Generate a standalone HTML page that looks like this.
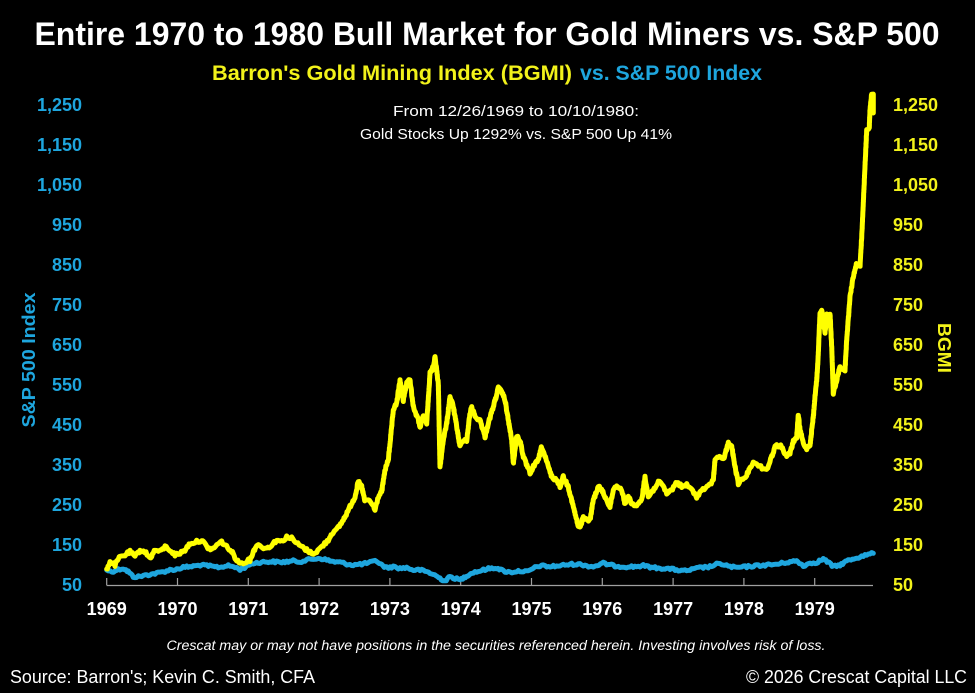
<!DOCTYPE html>
<html>
<head>
<meta charset="utf-8">
<style>
  html, body { margin:0; padding:0; background:#000; }
  body { width:975px; height:693px; overflow:hidden; }
  svg { display:block; }
  text { font-family: "Liberation Sans", "DejaVu Sans", sans-serif; }
</style>
</head>
<body>
<svg width="975" height="693" viewBox="0 0 975 693" xmlns="http://www.w3.org/2000/svg">
  <rect x="0" y="0" width="975" height="693" fill="#000"/>

  <!-- Title -->
  <text x="487" y="45" text-anchor="middle" font-size="32" font-weight="bold" fill="#ffffff" textLength="905" lengthAdjust="spacingAndGlyphs">Entire 1970 to 1980 Bull Market for Gold Miners vs. S&amp;P 500</text>

  <!-- Subtitle -->
  <text x="212" y="80" font-size="21" font-weight="bold" fill="#f2f21a" textLength="360" lengthAdjust="spacingAndGlyphs">Barron's Gold Mining Index (BGMI)</text>
  <text x="580" y="80" font-size="21" font-weight="bold" fill="#1ea6de" textLength="182" lengthAdjust="spacingAndGlyphs">vs. S&amp;P 500 Index</text>

  <!-- Annotation -->
  <text x="516" y="116" text-anchor="middle" font-size="15" fill="#ffffff" textLength="246" lengthAdjust="spacingAndGlyphs">From 12/26/1969 to 10/10/1980:</text>
  <text x="516" y="139" text-anchor="middle" font-size="15" fill="#ffffff" textLength="312" lengthAdjust="spacingAndGlyphs">Gold Stocks Up 1292% vs. S&amp;P 500 Up 41%</text>

  <!-- Left axis labels -->
  <g font-size="18" font-weight="bold" fill="#1ea6de" text-anchor="end">
    <text x="82" y="111">1,250</text>
    <text x="82" y="151">1,150</text>
    <text x="82" y="191">1,050</text>
    <text x="82" y="231">950</text>
    <text x="82" y="271">850</text>
    <text x="82" y="311">750</text>
    <text x="82" y="351">650</text>
    <text x="82" y="391">550</text>
    <text x="82" y="431">450</text>
    <text x="82" y="471">350</text>
    <text x="82" y="511">250</text>
    <text x="82" y="551">150</text>
    <text x="82" y="591">50</text>
  </g>

  <!-- Right axis labels -->
  <g font-size="18" font-weight="bold" fill="#f2f21a" text-anchor="start">
    <text x="893" y="111">1,250</text>
    <text x="893" y="151">1,150</text>
    <text x="893" y="191">1,050</text>
    <text x="893" y="231">950</text>
    <text x="893" y="271">850</text>
    <text x="893" y="311">750</text>
    <text x="893" y="351">650</text>
    <text x="893" y="391">550</text>
    <text x="893" y="431">450</text>
    <text x="893" y="471">350</text>
    <text x="893" y="511">250</text>
    <text x="893" y="551">150</text>
    <text x="893" y="591">50</text>
  </g>

  <!-- Axis titles -->
  <text transform="translate(35,360) rotate(-90)" text-anchor="middle" font-size="18" font-weight="bold" fill="#1ea6de" textLength="135" lengthAdjust="spacingAndGlyphs">S&amp;P 500 Index</text>
  <text transform="translate(938,348) rotate(90)" text-anchor="middle" font-size="18" font-weight="bold" fill="#f2f21a" textLength="50" lengthAdjust="spacingAndGlyphs">BGMI</text>

  <!-- X axis -->
  <line x1="106.5" y1="585.5" x2="873" y2="585.5" stroke="#a0a0a0" stroke-width="1.2"/>
  <g stroke="#a0a0a0" stroke-width="1.2">
    <line x1="106.7" y1="585" x2="106.7" y2="578"/>
    <line x1="177.5" y1="585" x2="177.5" y2="578"/>
    <line x1="248.3" y1="585" x2="248.3" y2="578"/>
    <line x1="319.1" y1="585" x2="319.1" y2="578"/>
    <line x1="389.9" y1="585" x2="389.9" y2="578"/>
    <line x1="460.7" y1="585" x2="460.7" y2="578"/>
    <line x1="531.5" y1="585" x2="531.5" y2="578"/>
    <line x1="602.3" y1="585" x2="602.3" y2="578"/>
    <line x1="673.1" y1="585" x2="673.1" y2="578"/>
    <line x1="743.9" y1="585" x2="743.9" y2="578"/>
    <line x1="814.7" y1="585" x2="814.7" y2="578"/>
  </g>
  <g font-size="18" font-weight="bold" fill="#ffffff" text-anchor="middle">
    <text x="106.7" y="615">1969</text>
    <text x="177.5" y="615">1970</text>
    <text x="248.3" y="615">1971</text>
    <text x="319.1" y="615">1972</text>
    <text x="389.9" y="615">1973</text>
    <text x="460.7" y="615">1974</text>
    <text x="531.5" y="615">1975</text>
    <text x="602.3" y="615">1976</text>
    <text x="673.1" y="615">1977</text>
    <text x="743.9" y="615">1978</text>
    <text x="814.7" y="615">1979</text>
  </g>

  <!-- S&P 500 line (blue) -->
  <polyline id="blue" fill="none" stroke="#1ea6de" stroke-width="5" stroke-linejoin="round" stroke-linecap="round"
    points="106.7,570 111.7,571.7 116.7,570 123.3,568.3 128.3,571.7 133.3,576.7 138.3,576.7 143.3,575.7 150,574.3 156.7,573.3 163.3,571.7 170,570 176.7,569.3 183.3,567.3 190,566.7 196.7,565.7 200,565 206.7,565.7 213.3,566.7 220,567.3 226.7,565.7 233.3,566.7 240,569.3 243.3,568.3 248.3,565 253.3,563.3 260,562.3 266.7,561.7 273.3,561.7 280,562.3 286.7,561.7 293.3,561 300,561.7 306.7,560 313.3,559 320,558.3 326.7,560 333.3,561.7 340,562.3 346.7,564 353.3,565 360,564.3 366.7,563.3 373.3,561.7 376.7,561 381.7,565 386.7,567.7 393.3,566.7 400,568.3 406.7,567.7 413.3,570 420,570 426.7,571.7 433.3,574.3 440,578.3 445,581 450,576.7 455,578.3 460,580 466.7,575.7 473.3,572.3 480,571 486.7,569 496.7,567.7 503.3,571 510,572.3 520,571 528.3,571.7 533.3,568.3 540,565.7 550,566.7 560,565.7 570,564.3 580,564.3 586.7,565.7 593.3,566.7 603.3,563.3 613.3,565.7 623.3,566.7 633.3,566.7 643.3,565.7 653.3,567.7 663.3,568.3 673.3,569.3 683.3,571 690,570 700,567.7 710,566.7 716.7,564.3 723.3,564.3 730,566.7 736.7,567.7 746.7,566.7 756.7,565.7 766.7,565 776.7,564.3 786.7,562.3 796.7,561 803.3,565.7 810,563.3 816.7,562.3 823.3,559 828.3,562.3 833.3,566.7 840,565 846.7,561 856.7,557.7 866.7,555 873.3,553.3"/>

  <!-- BGMI line (yellow) -->
  <polyline id="yellow" fill="none" stroke="#ffff00" stroke-width="5" stroke-linejoin="round" stroke-linecap="round"
    points="106.7,569 110,561.7 115,565 120,556.7 125,555 130,551.7 135,556.7 140,550 145,551.7 150,558.3 155,550 160,551.7 165,546.7 170,550 175,555 180,553.3 185,550 190,543.3 196.7,541.7 201.7,540 206.7,546.7 211.7,550 216.7,545 221.7,541.7 226.7,546.7 231.7,551.7 236.7,560 240,563.3 245,561.7 250,560 253.3,551.7 256.7,545 261.7,546.7 266.7,548.3 271.7,545 276.7,540 281.7,541.7 286.7,536.7 291.7,538.3 296.7,543.3 301.7,546.7 306.7,550 311.7,553.3 316.7,551.7 323.3,545 328.3,540 331.7,533.3 336.7,530 343.3,520 350,506.7 355,496.7 358.3,481.7 361.7,486.7 365,501.7 368.3,500 371.7,503.3 375,510 378.3,496.7 381.7,491.7 385,470 388.3,460 391.7,426.7 393.3,410 396.7,403.3 400,380 403.3,400 406.7,383.3 410,380 413.3,406.7 418.3,420 420,426.7 423.3,416.7 426.7,423.3 430,373.3 433.3,366.7 435,356.7 438.3,383.3 440,466.7 443.3,440 446.7,423.3 450,396.7 453.3,406.7 456.7,426.7 460,446.7 463.3,440 466.7,440 470,413.3 471.7,406.7 475,416.7 480,420 485,436.7 488.3,423.3 493.3,406.7 498.3,388.3 501.7,391.7 505,400 508.3,420 511.7,440 513.3,463.3 516.7,436.7 520,440 523.3,456.7 530,473.3 533.3,466.7 538.3,460 541.7,446.7 545,456.7 548.3,466.7 551.7,476.7 556.7,480 560,486.7 563.3,476.7 568.3,486.7 573.3,506.7 578.3,526.7 580,528.3 583.3,516.7 586.7,520 590,520 593.3,500 598.3,486.7 601.7,490 605,496.7 610,506.7 613.3,490 616.7,485 621.7,490 625,503.3 628.3,496.7 631.7,503.3 636.7,506.7 641.7,500 645,476.7 648.3,496.7 653.3,490 658.3,481.7 663.3,486.7 666.7,493.3 671.7,490 676.7,481.7 681.7,486.7 686.7,485 691.7,490 696.7,496.7 701.7,490 708.3,486.7 713.3,480 715,460 718.3,456.7 723.3,460 728.3,443.3 731.7,446.7 735,466.7 738.3,483.3 741.7,480 746.7,475 750,466.7 753.3,463.3 758.3,465 763.3,468.3 766.7,470 771.7,456.7 775,446.7 780,445 783.3,450 786.7,456.7 790,453.3 793.3,441.7 796.7,436.7 798.3,415 800,430 803.3,443.3 806.7,448.3 810,445 813.3,416.7 815,396.7 816.7,380 818,360 820,313.3 821.7,310 825,333.3 826.7,313.3 830,313.3 831.7,346.7 833.3,393.3 836.7,380 840,366.7 845,370 846.7,340 850,296.7 853.3,276.7 856.7,263.3 860,266.7 861.7,236.7 865,166.7 866.7,130 869.3,126.7 870,110 871.7,93.3 873.3,93.3 873.3,113"/>

  <!-- Disclaimer -->
  <text x="496" y="650" text-anchor="middle" font-size="13.5" font-style="italic" fill="#ffffff" textLength="659" lengthAdjust="spacingAndGlyphs">Crescat may or may not have positions in the securities referenced herein. Investing involves risk of loss.</text>

  <!-- Footer -->
  <text x="10" y="683" font-size="18" fill="#ffffff" textLength="305" lengthAdjust="spacingAndGlyphs">Source: Barron's; Kevin C. Smith, CFA</text>
  <text x="746" y="683" font-size="18" fill="#ffffff" textLength="221" lengthAdjust="spacingAndGlyphs">© 2026 Crescat Capital LLC</text>
</svg>
<script>
(function(){
  var seed = 12345;
  function rnd(){ seed = (seed * 1103515245 + 12345) % 2147483648; return seed / 2147483648; }
  function roughen(id, amp, step){
    var el = document.getElementById(id);
    if(!el) return;
    var pts = el.getAttribute('points').trim().split(/\s+/).map(function(p){var a=p.split(',');return [parseFloat(a[0]),parseFloat(a[1])];});
    var out = [];
    var n = 0;
    for(var i=0;i<pts.length-1;i++){
      var a=pts[i], b=pts[i+1];
      var dx=b[0]-a[0], dy=b[1]-a[1];
      var len=Math.sqrt(dx*dx+dy*dy);
      var k=Math.max(1,Math.round(len/step));
      for(var j=0;j<k;j++){
        var t=j/k;
        var x=a[0]+dx*t, y=a[1]+dy*t;
        var jit = (n===0)?0:(rnd()-0.5)*2*amp;
        out.push(x.toFixed(1)+','+(y+jit).toFixed(1));
        n++;
      }
    }
    var last=pts[pts.length-1];
    out.push(last[0].toFixed(1)+','+last[1].toFixed(1));
    el.setAttribute('points', out.join(' '));
  }
  try { roughen('blue', 1.2, 1.6); roughen('yellow', 1.6, 1.6); } catch(e){}
})();
</script>
</body>
</html>
